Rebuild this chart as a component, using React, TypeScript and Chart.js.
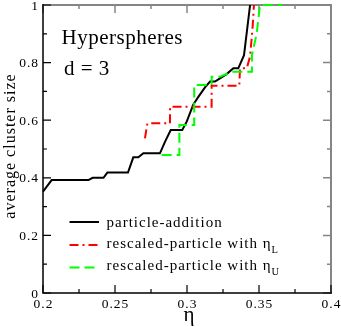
import React, { useEffect, useRef } from "react";
import { Chart, registerables } from "chart.js";

Chart.register(...registerables);

// particle-addition
const addX = [0.2, 0.206, 0.2315, 0.2345, 0.242, 0.2447, 0.259, 0.2627, 0.2662, 0.2697, 0.2812, 0.2847, 0.2887, 0.2967, 0.2998, 0.3044, 0.308, 0.3125, 0.316, 0.3194, 0.3229, 0.3275, 0.3322, 0.3356, 0.3396, 0.3438];
const addY = [0.352, 0.392, 0.392, 0.4, 0.4, 0.418, 0.418, 0.471, 0.471, 0.485, 0.485, 0.525, 0.566, 0.566, 0.595, 0.655, 0.682, 0.714, 0.734, 0.734, 0.745, 0.76, 0.78, 0.78, 0.826, 1.0];
// rescaled-particle with eta_L
const lowX = [0.2708, 0.2725, 0.2882, 0.2882, 0.3171, 0.3171, 0.3363, 0.3368, 0.3415, 0.3438, 0.3456, 0.3465];
const lowY = [0.537, 0.589, 0.589, 0.647, 0.647, 0.72, 0.72, 0.78, 0.78, 0.821, 0.925, 1.0];
// rescaled-particle with eta_U
const upX = [0.2824, 0.2947, 0.2947, 0.305, 0.305, 0.3171, 0.3171, 0.3229, 0.331, 0.3451, 0.3451, 0.3484, 0.3507, 0.3658];
const upY = [0.479, 0.479, 0.583, 0.583, 0.722, 0.722, 0.751, 0.751, 0.768, 0.768, 0.826, 0.901, 1.0, 1.0];

const xMajor = [0.2, 0.25, 0.3, 0.35, 0.4];
const xMajorLabels = ["0.2", "0.25", "0.3", "0.35", "0.4"];
const xMinor = [0.225, 0.275, 0.325, 0.375];
const yMajor = [0, 0.2, 0.4, 0.6, 0.8, 1];
const yMajorLabels = ["0", "0.2", "0.4", "0.6", "0.8", "1"];
const yMinor = [0.1, 0.3, 0.5, 0.7, 0.9];

const seriesNames = ["particle-addition", "rescaled-particle with η", "rescaled-particle with η"];
const seriesSubs = ["", "L", "U"];
const seriesColors = ["#000000", "#ff0000", "#00ff00"];
const seriesDashes: number[][] = [[], [9, 4, 2, 4], [10, 5]];

const FONT = '"Liberation Serif", "Times New Roman", serif';

function pts(xs: number[], ys: number[]) {
  return xs.map((x, i) => ({ x, y: ys[i] }));
}

function txt(ctx: any, s: string, x: number, y: number, size: number, align: CanvasTextAlign, spacing = 1, baseline: CanvasTextBaseline = "alphabetic") {
  ctx.font = `${size}px ${FONT}`;
  ctx.letterSpacing = spacing + "px";
  ctx.textAlign = align;
  ctx.textBaseline = baseline;
  ctx.fillStyle = "#000";
  ctx.fillText(s, x, y);
  const w = ctx.measureText(s).width;
  ctx.letterSpacing = "0px";
  return w;
}

const framePlugin = {
  id: "framePlugin",
  beforeDatasetsDraw(chart: any) {
    const { ctx, chartArea: a, scales } = chart;
    const xs = scales.x, ys = scales.y;
    ctx.save();
    ctx.lineCap = "butt";
    // gray top/right
    ctx.strokeStyle = "#858585";
    ctx.lineWidth = 2;
    ctx.beginPath();
    ctx.moveTo(a.left, a.top);
    ctx.lineTo(a.right, a.top);
    ctx.lineTo(a.right, a.bottom);
    ctx.stroke();
    ctx.lineWidth = 1.5;
    ctx.beginPath();
    xMajor.forEach((v) => { const p = xs.getPixelForValue(v); ctx.moveTo(p, a.top); ctx.lineTo(p, a.top + 8); });
    xMinor.forEach((v) => { const p = xs.getPixelForValue(v); ctx.moveTo(p, a.top); ctx.lineTo(p, a.top + 4); });
    yMajor.forEach((v) => { const p = ys.getPixelForValue(v); ctx.moveTo(a.right, p); ctx.lineTo(a.right - 8, p); });
    yMinor.forEach((v) => { const p = ys.getPixelForValue(v); ctx.moveTo(a.right, p); ctx.lineTo(a.right - 4, p); });
    ctx.stroke();
    // black left/bottom
    ctx.strokeStyle = "#000";
    ctx.lineWidth = 1.5;
    ctx.beginPath();
    ctx.moveTo(a.left, a.top - 1);
    ctx.lineTo(a.left, a.bottom);
    ctx.lineTo(a.right + 1, a.bottom);
    ctx.stroke();
    ctx.lineWidth = 1.2;
    ctx.beginPath();
    xMajor.forEach((v) => { const p = xs.getPixelForValue(v); ctx.moveTo(p, a.bottom); ctx.lineTo(p, a.bottom - 8); });
    xMinor.forEach((v) => { const p = xs.getPixelForValue(v); ctx.moveTo(p, a.bottom); ctx.lineTo(p, a.bottom - 4); });
    yMajor.forEach((v) => { const p = ys.getPixelForValue(v); ctx.moveTo(a.left, p); ctx.lineTo(a.left + 8, p); });
    yMinor.forEach((v) => { const p = ys.getPixelForValue(v); ctx.moveTo(a.left, p); ctx.lineTo(a.left + 4, p); });
    ctx.stroke();
    ctx.restore();
  },
  afterDraw(chart: any) {
    const { ctx, chartArea: a, scales } = chart;
    const xs = scales.x, ys = scales.y;
    ctx.save();
    // tick labels
    xMajor.forEach((v, i) => {
      txt(ctx, xMajorLabels[i], xs.getPixelForValue(v) + 0.5, a.bottom + 14.5, 13.5, "center", 1);
    });
    yMajor.forEach((v, i) => {
      txt(ctx, yMajorLabels[i], a.left - 4, ys.getPixelForValue(v) + 4.5, 13.5, "right", 1);
    });
    // axis titles
    txt(ctx, "η", (a.left + a.right) / 2 + 2, 321, 21, "center", 0);
    ctx.save();
    ctx.translate(14.5, (a.top + a.bottom) / 2 - 3);
    ctx.rotate(-Math.PI / 2);
    txt(ctx, "average cluster size", 0, 0, 16, "center", 1);
    ctx.restore();
    // annotations
    txt(ctx, "Hyperspheres", 61.5, 44, 21, "left", 0.5);
    txt(ctx, "d = 3", 64, 75, 21, "left", 0.5);
    // legend
    const lineY = [222, 245, 267.5];
    const baseY = [226.5, 248, 269.5];
    for (let i = 0; i < 3; i++) {
      ctx.save();
      ctx.strokeStyle = seriesColors[i];
      ctx.lineWidth = 2;
      ctx.setLineDash(seriesDashes[i]);
      ctx.beginPath();
      ctx.moveTo(69.5, lineY[i]);
      ctx.lineTo(99, lineY[i]);
      ctx.stroke();
      ctx.restore();
      const w = txt(ctx, seriesNames[i], 106.5, baseY[i], 15, "left", 1);
      if (seriesSubs[i]) {
        txt(ctx, seriesSubs[i], 106.5 + w, baseY[i] + 5, 10.5, "left", 0);
      }
    }
    ctx.restore();
  },
};

export default function App() {
  const ref = useRef<HTMLCanvasElement>(null);
  useEffect(() => {
    if (!ref.current) return;
    const mk = (xs: number[], ys: number[], i: number) => ({
      label: seriesNames[i] + seriesSubs[i],
      data: pts(xs, ys),
      borderColor: seriesColors[i],
      borderWidth: 2,
      borderDash: seriesDashes[i],
      pointRadius: 0,
      tension: 0,
      fill: false,
      clip: false as any,
    });
    const chart = new Chart(ref.current, {
      type: "line",
      data: {
        datasets: [mk(upX, upY, 2), mk(lowX, lowY, 1), mk(addX, addY, 0)],
      },
      options: {
        animation: false,
        responsive: false,
        devicePixelRatio: 1,
        layout: { padding: { left: 43, right: 10, top: 5, bottom: 34 } },
        scales: {
          x: { type: "linear", min: 0.2, max: 0.4, display: false },
          y: { type: "linear", min: 0, max: 1, display: false },
        },
        plugins: { legend: { display: false }, tooltip: { enabled: false } },
      },
      plugins: [framePlugin],
    });
    return () => chart.destroy();
  }, []);
  return (
    <div style={{ position: "fixed", left: 0, top: 0, width: 341, height: 327, background: "#fff" }}>
      <canvas ref={ref} width={341} height={327} style={{ display: "block" }} />
    </div>
  );
}
